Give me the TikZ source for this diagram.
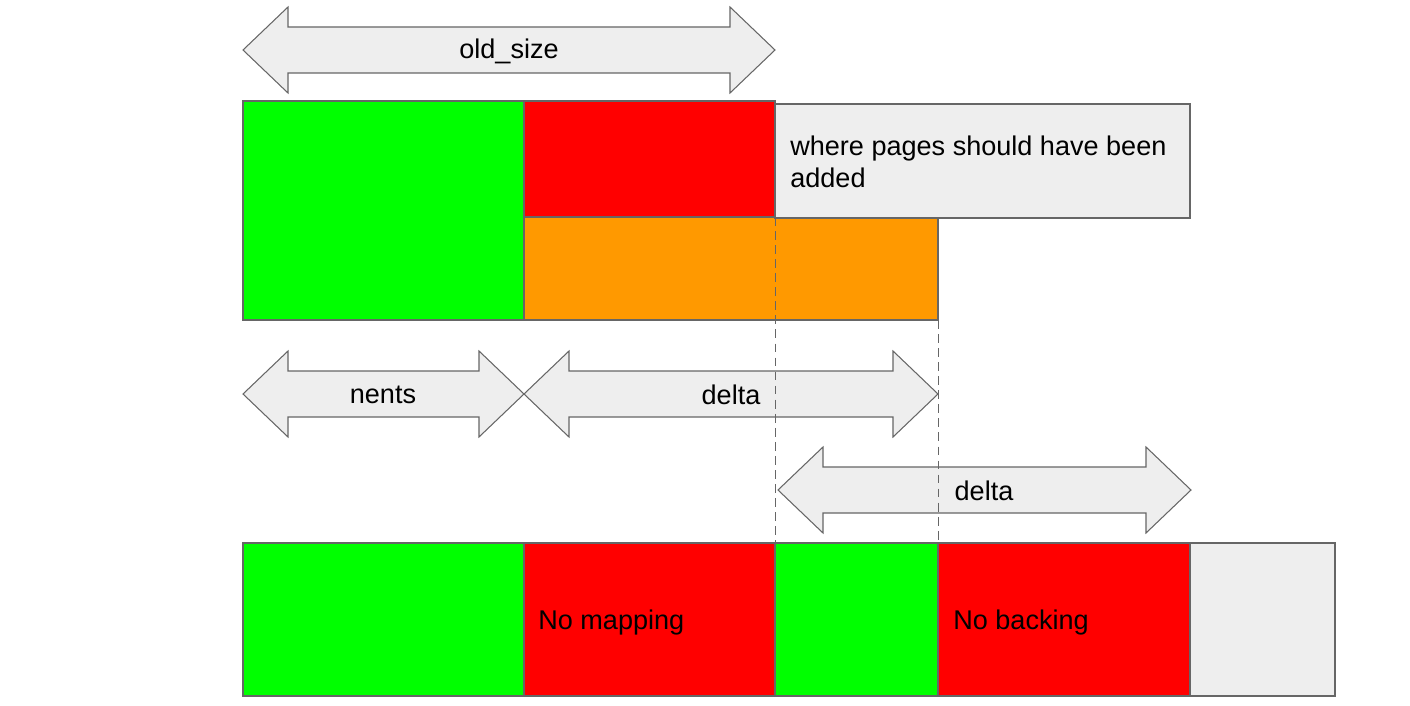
\documentclass[tikz,border=0pt]{standalone}
\usepackage{fontspec}
\setmainfont{Liberation Sans}
\usepackage{tikz}
\usetikzlibrary{calc}
\definecolor{pagegreen}{HTML}{00FF00}
\definecolor{pagered}{HTML}{FF0000}
\definecolor{pageorange}{HTML}{FF9900}
\definecolor{pagegray}{HTML}{EEEEEE}
\definecolor{edgegray}{HTML}{666666}
\def\drawblock{\draw[draw=edgegray, line width=0.6pt]}
\def\drawguide{\draw[draw=edgegray, line width=0.5pt, dash pattern=on 5pt off 3pt]}
\def\sizetext{\fontsize{15.4}{18}\selectfont}
% double arrow between x=#1 and x=#2, centred on y=#3
\newcommand{\sizearrow}[3]{%
\draw[draw=edgegray, fill=pagegray, line width=0.6pt, line join=miter]
 (#1,#3) -- (#1+45,#3-43) -- (#1+45,#3-23) -- (#2-45,#3-23) -- (#2-45,#3-43)
 -- (#2,#3) -- (#2-45,#3+43) -- (#2-45,#3+23) -- (#1+45,#3+23) -- (#1+45,#3+43) -- cycle;}

\begin{document}
\begin{tikzpicture}[x=0.02cm,y=-0.02cm,inner sep=0pt]
\useasboundingbox (0,0) rectangle (1410,706);

% -------- old mapping ---------
\coordinate (oldtop) at (243,101);
\drawblock[fill=pagegreen] (oldtop) rectangle (524,320);
\drawblock[fill=pagered] (524,101) rectangle (775,217);
\drawblock[fill=pageorange] (524,217) rectangle (938,320);
\drawblock[fill=pagegray] (775,104) rectangle (1190,218);
\node[anchor=north west, align=left, font=\sizetext] (where) at (790,136)
 {where pages should have been\\added};
% ------ end old mapping ------

% -------- sizes ---------
\sizearrow{243}{775}{50}
\node[font=\sizetext] (oldsize) at (509,51) {old\_size};
\sizearrow{243}{524}{394}
\node[font=\sizetext] (nents) at (383,395) {nents};
\sizearrow{524}{938}{394}
\node[font=\sizetext] (delta) at (731,395) {delta};
\sizearrow{778}{1191}{490}
\node[font=\sizetext] (newdelta) at (984,491) {delta};
% ------ end sizes ------

% -------- new mapping ---------
\drawblock[fill=pagegreen] (243,543) rectangle (524,696);
\drawblock[fill=pagered] (524,543) rectangle (775,696);
\drawblock[fill=pagegreen] (775,543) rectangle (938,696);
\drawblock[fill=pagered] (938,543) rectangle (1190,696);
\drawblock[fill=pagegray] (1190,543) rectangle (1335,696);
\node[anchor=west, font=\sizetext] (nomap) at (538,622) {No mapping};
\node[anchor=west, font=\sizetext] (noback) at (953,622) {No backing};
% ------ end new mapping ------

% where the old end and the new end line up
\coordinate (oldend) at (775,217);
\coordinate (newend) at (938,320);
\drawguide (oldend) -- (oldend |- 0,543);
\drawguide (newend) -- (newend |- 0,696);
\end{tikzpicture}
\end{document}
